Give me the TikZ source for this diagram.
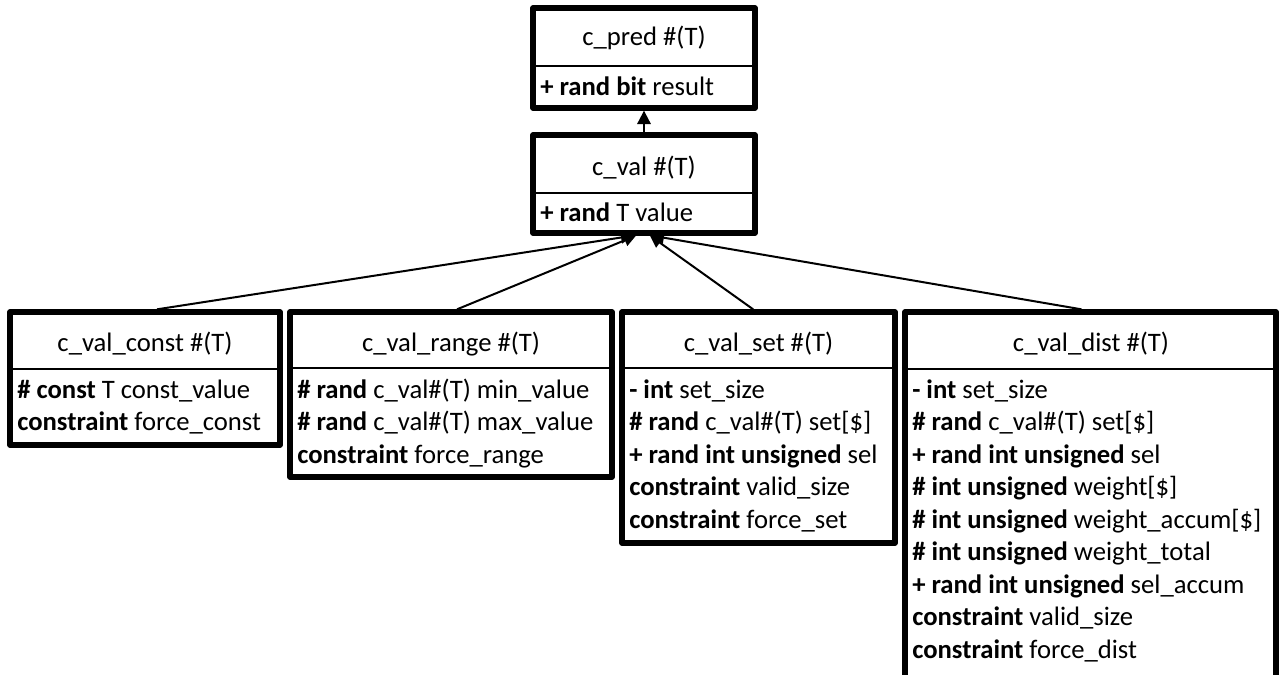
\documentclass[tikz,border=0pt]{standalone}
\usepackage{fontspec}
\setmainfont{Carlito}
\usetikzlibrary{arrows.meta,fit}
\begin{document}
\begin{tikzpicture}[x=0.75pt,y=-0.75pt,
  umlbox/.style={draw, line width=4pt, line join=round, inner sep=0pt, outer sep=2pt, rectangle},
  divider/.style={line width=1.5pt},
  link/.style={line width=1.5pt, -{Triangle[length=9pt,width=9pt]}},
  clsname/.style={anchor=base, inner sep=0pt, font=\fontsize{20pt}{24.75pt}\selectfont},
  attr/.style={anchor=base west, inner sep=0pt, font=\fontsize{20pt}{24.75pt}\selectfont}]
\useasboundingbox (0,0) rectangle (1279,675);
\clip (0,0) rectangle (1279,675);

% boxes
\node[umlbox, fit={(533,8) (755,108)}] (pred) {};
\node[umlbox, fit={(533,135) (755,233)}] (val) {};
\node[umlbox, fit={(10,312) (280,445)}] (const) {};
\node[umlbox, fit={(290,312) (612,477)}] (range) {};
\node[umlbox, fit={(622,312) (895,543)}] (set) {};
\node[umlbox, fit={(905,312) (1276,700)}] (dist) {};

% dividers
\draw[divider] (pred.west |- 0,66) -- (pred.east |- 0,66);
\draw[divider] (val.west |- 0,193) -- (val.east |- 0,193);
\draw[divider] (const.west |- 0,369) -- (const.east |- 0,369);
\draw[divider] (range.west |- 0,368) -- (range.east |- 0,368);
\draw[divider] (set.west |- 0,368) -- (set.east |- 0,368);
\draw[divider] (dist.west |- 0,369) -- (dist.east |- 0,369);

% texts
\node[clsname] (predT) at (644,45) {c\_pred \#(T)};
\node[attr] (predA) at (540,95) {\textbf{+ rand bit} result};
\node[clsname] (valT) at (644,175) {c\_val \#(T)};
\node[attr] (valA) at (540,221) {\textbf{+ rand} T value};

\node[clsname] (constT) at (145,351) {c\_val\_const \#(T)};
\node[attr] (c1) at (17,398) {\textbf{\# const} T const\_value};
\node[attr] (c2) at (17,430.5) {\textbf{constraint} force\_const};

\node[clsname] (rangeT) at (451,351) {c\_val\_range \#(T)};
\node[attr] (r1) at (297,398) {\textbf{\# rand} c\_val\#(T) min\_value};
\node[attr] (r2) at (297,430.5) {\textbf{\# rand} c\_val\#(T) max\_value};
\node[attr] (r3) at (297,463) {\textbf{constraint} force\_range};

\node[clsname] (setT) at (758.5,351) {c\_val\_set \#(T)};
\node[attr] (s1) at (629,398) {\textbf{- int} set\_size};
\node[attr] (s2) at (629,430.5) {\textbf{\# rand} c\_val\#(T) set[\$]};
\node[attr] (s3) at (629,463) {\textbf{+ rand int unsigned} sel};
\node[attr] (s4) at (629,495.5) {\textbf{constraint} valid\_size};
\node[attr] (s5) at (629,528) {\textbf{constraint} force\_set};

\node[clsname] (distT) at (1091,351) {c\_val\_dist \#(T)};
\node[attr] (d1) at (912,398) {\textbf{- int} set\_size};
\node[attr] (d2) at (912,430.5) {\textbf{\# rand} c\_val\#(T) set[\$]};
\node[attr] (d3) at (912,463) {\textbf{+ rand int unsigned} sel};
\node[attr] (d4) at (912,495.5) {\textbf{\# int unsigned} weight[\$]};
\node[attr] (d5) at (912,528) {\textbf{\# int unsigned} weight\_accum[\$]};
\node[attr] (d6) at (912,560.5) {\textbf{\# int unsigned} weight\_total};
\node[attr] (d7) at (912,593) {\textbf{+ rand int unsigned} sel\_accum};
\node[attr] (d8) at (912,625.5) {\textbf{constraint} valid\_size};
\node[attr] (d9) at (912,658) {\textbf{constraint} force\_dist};

% connectors
\draw[link, -{Triangle[length=10pt,width=10pt]}] (val.north) -- (pred.south);
\draw[link] ([xshift=9pt]const.north) -- ([xshift=-8.25pt]val.south);
\draw[link] ([xshift=4.5pt]range.north) -- ([xshift=-6pt]val.south);
\draw[link] ([xshift=-4pt]set.north) -- ([xshift=4.5pt]val.south);
\draw[link] ([xshift=-6.75pt]dist.north) -- ([xshift=6pt]val.south);
\end{tikzpicture}
\end{document}
